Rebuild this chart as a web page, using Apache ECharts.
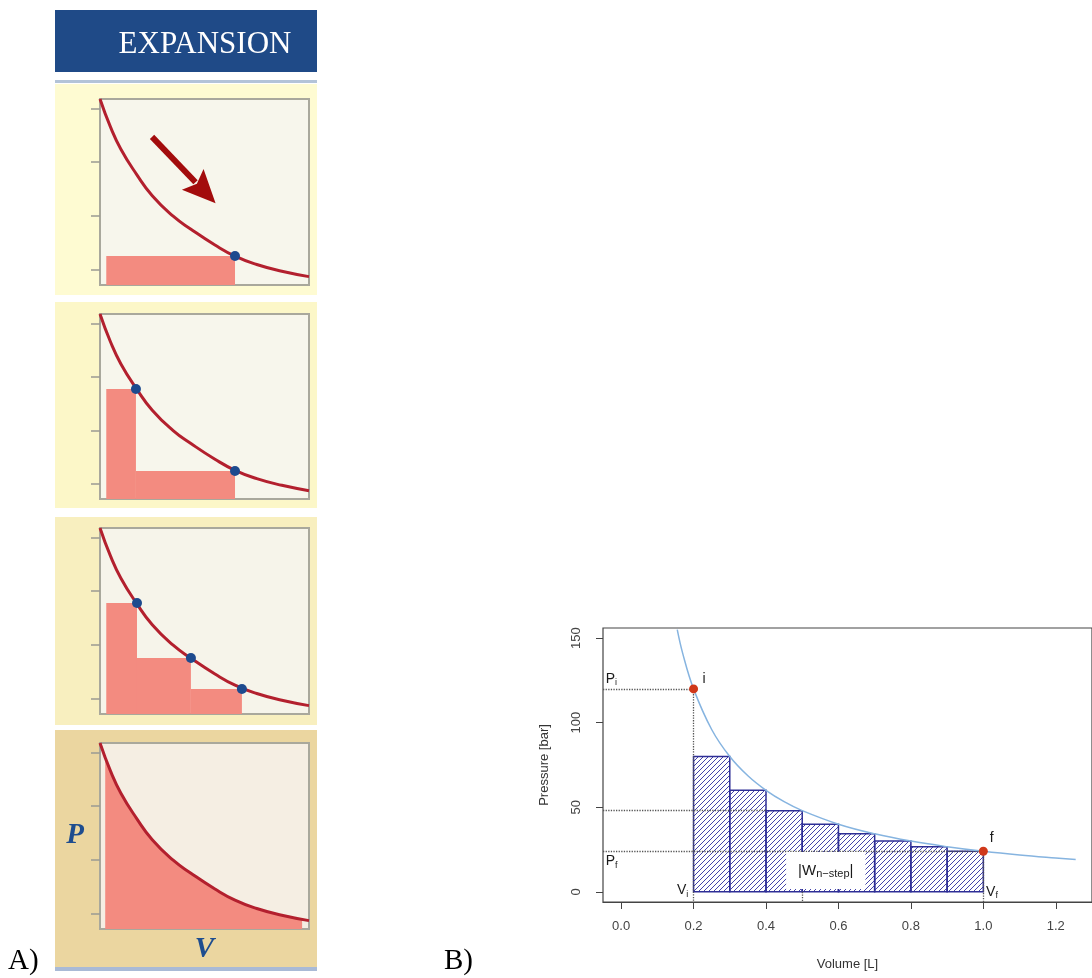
<!DOCTYPE html>
<html>
<head>
<meta charset="utf-8">
<title>Expansion work</title>
<script src="https://cdn.jsdelivr.net/npm/echarts@6/dist/echarts.min.js"></script>
<style>
  html, body { margin: 0; padding: 0; background: #fff; }
  #chart { width: 1092px; height: 978px; }
</style>
</head>
<body>
<div id="chart"></div>
<script>
// ---- panel A data (unitless P-V sketch, box = 0..1) ----
var panelCurveX = [0, 0.05, 0.1, 0.175, 0.25, 0.35, 0.435, 0.55, 0.646, 0.75, 0.87, 1.0];
var panelCurveY = [1.0, 0.85, 0.73, 0.595, 0.48, 0.37, 0.30, 0.215, 0.155, 0.11, 0.074, 0.045];
var fillX = [0.025, 0.05, 0.1, 0.175, 0.25, 0.35, 0.435, 0.55, 0.646, 0.75, 0.87, 0.967];
var fillY = [0.92, 0.85, 0.73, 0.595, 0.48, 0.37, 0.30, 0.215, 0.155, 0.11, 0.074, 0.052];
var panelTicks = [0.08, 0.37, 0.66, 0.95];

var panel1Left = [0.03], panel1Right = [0.646], panel1Top = [0.156];
var panel2Left = [0.03, 0.172], panel2Right = [0.172, 0.646], panel2Top = [0.595, 0.151];
var panel3Left = [0.03, 0.177, 0.435], panel3Right = [0.177, 0.435, 0.679], panel3Top = [0.597, 0.301, 0.134];
var arrowFrom = [0.249, 0.796], arrowTo = [0.553, 0.44];

// ---- panel B data ----
var curveV = [0.155, 0.17, 0.2, 0.25, 0.3, 0.35, 0.4, 0.45, 0.5, 0.6, 0.7, 0.8, 0.9, 1.0, 1.1, 1.2, 1.255];
var curveP = [155, 141, 120, 96, 80, 68.6, 60, 53.3, 48, 40, 34.3, 30, 26.7, 24, 21.8, 20, 19.1];
var stepLeft = [0.2, 0.3, 0.4, 0.5, 0.6, 0.7, 0.8, 0.9];
var stepRight = [0.3, 0.4, 0.5, 0.6, 0.7, 0.8, 0.9, 1.0];
var stepP = [80, 60, 48, 40, 34.3, 30, 26.7, 24];
var pointV = [0.2, 1.0], pointP = [120, 24];
var xTicks = [0, 0.2, 0.4, 0.6, 0.8, 1.0, 1.2];
var yTicks = [0, 50, 100, 150];

function zip(a, b) { return a.map(function (v, i) { return [v, b[i]]; }); }
function zip3(a, b, c) { return a.map(function (v, i) { return [v, b[i], c[i]]; }); }

// diagonal hatch for the step bars
var hatch = document.createElement('canvas');
hatch.width = 5; hatch.height = 5;
var hc = hatch.getContext('2d');
hc.strokeStyle = '#4444aa';
hc.lineWidth = 1;
hc.beginPath();
hc.moveTo(-1, 6); hc.lineTo(6, -1);
hc.moveTo(-1, 1); hc.lineTo(1, -1);
hc.moveTo(4, 6); hc.lineTo(6, 4);
hc.stroke();

var chart = echarts.init(document.getElementById('chart'));

var panelTops = [99, 314, 528, 743];
var panelHeights = [186, 185, 186, 186];
var panelBoxBg = ['#f7f6ec', '#f7f6ec', '#f6f4ea', '#f5eee3'];

var grids = [], xAxes = [], yAxes = [], series = [];
panelTops.forEach(function (t, i) {
  grids.push({ left: 100, top: t, width: 209, height: panelHeights[i], show: true,
    backgroundColor: panelBoxBg[i], borderColor: '#a9a89c', borderWidth: 2 });
  xAxes.push({ gridIndex: i, type: 'value', min: 0, max: 1,
    name: i === 3 ? 'V' : '', nameLocation: 'middle', nameGap: 6,
    nameTextStyle: { fontFamily: 'Liberation Serif', fontStyle: 'italic', fontWeight: 'bold', fontSize: 29, color: '#1e4d8f', verticalAlign: 'top' },
    axisLine: { show: false }, axisTick: { show: false }, axisLabel: { show: false }, splitLine: { show: false } });
  yAxes.push({ gridIndex: i, type: 'value', min: 0, max: 1,
    name: i === 3 ? 'P' : '', nameLocation: 'middle', nameGap: 16, nameRotate: 0,
    nameTextStyle: { fontFamily: 'Liberation Serif', fontStyle: 'italic', fontWeight: 'bold', fontSize: 29, color: '#1e4d8f', align: 'right' },
    axisLine: { show: false, onZero: false },
    axisTick: { show: true, length: 9, customValues: panelTicks, lineStyle: { color: '#9a9a92', width: 1.5 } },
    axisLabel: { show: false }, splitLine: { show: false } });
});

// panel B grid: x -0.05..1.30, y -6..156 (R style 4% padding)
grids.push({ left: 603, top: 628, width: 500, height: 274, show: true,
  backgroundColor: '#fff', borderColor: '#444', borderWidth: 1.2 });
xAxes.push({ gridIndex: 4, type: 'value', min: -0.05, max: 1.3,
  name: 'Volume [L]', nameLocation: 'middle', nameGap: 56,
  nameTextStyle: { fontFamily: 'Liberation Sans', fontSize: 13, color: '#333' },
  axisLine: { show: true, onZero: false, lineStyle: { color: '#444' } },
  axisTick: { show: true, length: 7, customValues: xTicks, lineStyle: { color: '#444' } },
  axisLabel: { customValues: xTicks, margin: 18, fontFamily: 'Liberation Sans', fontSize: 13, color: '#444',
    formatter: function (v) { return v.toFixed(1); } },
  splitLine: { show: false } });
yAxes.push({ gridIndex: 4, type: 'value', min: -6, max: 156,
  name: 'Pressure [bar]', nameLocation: 'middle', nameGap: 52,
  nameTextStyle: { fontFamily: 'Liberation Sans', fontSize: 13, color: '#333' },
  axisLine: { show: false, onZero: false },
  axisTick: { show: true, length: 7, customValues: yTicks, lineStyle: { color: '#444' } },
  axisLabel: { customValues: yTicks, rotate: 90, margin: 20, fontFamily: 'Liberation Sans', fontSize: 13, color: '#444' },
  splitLine: { show: false } });

function rectItem(fill, stroke) {
  return function (params, api) {
    var p0 = api.coord([api.value(0), 0]);
    var p1 = api.coord([api.value(1), api.value(2)]);
    return { type: 'rect',
      shape: { x: p0[0], y: p1[1], width: p1[0] - p0[0], height: p0[1] - p1[1] },
      style: { fill: fill, stroke: stroke || null, lineWidth: stroke ? 1.5 : 0 } };
  };
}

// panel A: steps, curve, dots
var panelSteps = [
  zip3(panel1Left, panel1Right, panel1Top),
  zip3(panel2Left, panel2Right, panel2Top),
  zip3(panel3Left, panel3Right, panel3Top)
];
panelSteps.forEach(function (d, i) {
  series.push({ type: 'custom', xAxisIndex: i, yAxisIndex: i, renderItem: rectItem('#f38b80'),
    encode: { x: [0, 1], y: 2 }, data: d, silent: true });
  series.push({ type: 'scatter', xAxisIndex: i, yAxisIndex: i, symbolSize: 10, z: 5,
    itemStyle: { color: '#1d4a8e', opacity: 1 }, data: d.map(function (r) { return [r[1], r[2]]; }) });
});
series.push({ type: 'line', xAxisIndex: 3, yAxisIndex: 3, data: zip(fillX, fillY), smooth: true,
  symbol: 'none', lineStyle: { width: 0 }, areaStyle: { color: '#f38b80', opacity: 1 } });
for (var k = 0; k < 4; k++) {
  series.push({ type: 'line', xAxisIndex: k, yAxisIndex: k, data: zip(panelCurveX, panelCurveY), smooth: true,
    symbol: 'none', z: 4, lineStyle: { color: '#b3202e', width: 3 } });
}
// expansion arrow in panel 1
series.push({ type: 'custom', xAxisIndex: 0, yAxisIndex: 0, data: [[arrowFrom[0], arrowFrom[1], arrowTo[0], arrowTo[1]]],
  encode: { x: [0, 2], y: [1, 3] },
  renderItem: function (params, api) {
    var a = api.coord([api.value(0), api.value(1)]);
    var b = api.coord([api.value(2), api.value(3)]);
    var dx = b[0] - a[0], dy = b[1] - a[1], len = Math.sqrt(dx * dx + dy * dy);
    var ux = dx / len, uy = dy / len, hl = 33, hw = 15;
    var bx = b[0] - ux * hl, by = b[1] - uy * hl;
    return { type: 'group', children: [
      { type: 'line', shape: { x1: a[0], y1: a[1], x2: bx + ux * 4, y2: by + uy * 4 },
        style: { stroke: '#a30c0c', lineWidth: 6 } },
      { type: 'polygon', shape: { points: [[b[0], b[1]], [bx - uy * hw, by + ux * hw], [bx + ux * 6, by + uy * 6], [bx + uy * hw, by - ux * hw]] },
        style: { fill: '#a30c0c' } }
    ] };
  } });

// panel B: hatched steps
series.push({ type: 'custom', xAxisIndex: 4, yAxisIndex: 4, z: 2,
  renderItem: rectItem({ image: hatch, repeat: 'repeat' }, '#2e2e96'),
  encode: { x: [0, 1], y: 2 }, data: zip3(stepLeft, stepRight, stepP) });
// dotted guides
series.push({ type: 'lines', coordinateSystem: 'cartesian2d', xAxisIndex: 4, yAxisIndex: 4, z: 3, silent: true,
  lineStyle: { type: 'dotted', color: '#555', width: 1.3, opacity: 1 },
  data: [
    { coords: [[-0.05, pointP[0]], [pointV[0], pointP[0]]] },
    { coords: [[pointV[0], pointP[0]], [pointV[0], -6]] },
    { coords: [[-0.05, stepP[2]], [stepRight[1], stepP[2]]] },
    { coords: [[-0.05, pointP[1]], [pointV[1], pointP[1]]] },
    { coords: [[0.5, 0], [0.5, -6]] },
    { coords: [[pointV[1], pointP[1]], [pointV[1], -6]] }
  ] });
series.push({ type: 'line', xAxisIndex: 4, yAxisIndex: 4, z: 4, data: zip(curveV, curveP), smooth: 0.4,
  symbol: 'none', lineStyle: { color: '#86b4e0', width: 1.5 } });

var rich = {
  n: { fontFamily: 'Liberation Sans', fontSize: 14, color: '#1a1a1a' },
  s: { fontFamily: 'Liberation Sans', fontSize: 9, color: '#1a1a1a', padding: [8, 0, 0, 0] },
  w: { fontFamily: 'Liberation Sans', fontSize: 15, color: '#1a1a1a' },
  ws: { fontFamily: 'Liberation Sans', fontSize: 11, color: '#1a1a1a', padding: [6, 0, 0, 0] }
};
function note(x, y, f, extra) {
  return { value: [x, y], label: Object.assign({ show: true, formatter: f, position: 'inside', opacity: 1, rich: rich }, extra || {}) };
}
series.push({ type: 'scatter', xAxisIndex: 4, yAxisIndex: 4, z: 6, symbolSize: 9,
  itemStyle: { color: '#d0381a', opacity: 1 }, data: zip(pointV, pointP) });
series.push({ type: 'scatter', xAxisIndex: 4, yAxisIndex: 4, z: 7, symbolSize: 1, silent: true,
  itemStyle: { color: 'rgba(0,0,0,0)', opacity: 1 },
  data: [
    note(-0.027, 126, '{n|P}{s|i}'),
    note(0.229, 126, '{n|i}'),
    note(-0.026, 18, '{n|P}{s|f}'),
    note(1.023, 32, '{n|f}'),
    note(0.17, 1, '{n|V}{s|i}'),
    note(1.024, 0, '{n|V}{s|f}'),
    note(0.565, 12.6, '{w||W}{ws|n\u2212step}{w||}', { backgroundColor: '#fff', padding: [10, 12, 10, 12] })
  ] });

chart.setOption({
  animation: false,
  graphic: [
    { type: 'rect', z: -10, shape: { x: 55, y: 10, width: 262, height: 62 }, style: { fill: '#1f4a87' } },
    { type: 'rect', z: -10, shape: { x: 55, y: 80, width: 262, height: 3 }, style: { fill: '#b3c3d8' } },
    { type: 'rect', z: -10, shape: { x: 55, y: 84, width: 262, height: 211 }, style: { fill: '#fefbd2' } },
    { type: 'rect', z: -10, shape: { x: 55, y: 302, width: 262, height: 206 }, style: { fill: '#fcf7c8' } },
    { type: 'rect', z: -10, shape: { x: 55, y: 517, width: 262, height: 208 }, style: { fill: '#f8efbf' } },
    { type: 'rect', z: -10, shape: { x: 55, y: 730, width: 262, height: 237 }, style: { fill: '#ebd6a0' } },
    { type: 'rect', z: -10, shape: { x: 55, y: 967, width: 262, height: 4 }, style: { fill: '#a9bad6' } },
    { type: 'text', z: 10, x: 205, y: 45, style: { text: 'EXPANSION', fill: '#fff', font: '31px "Liberation Serif"', textAlign: 'center', textVerticalAlign: 'middle' } },
    { type: 'text', z: 10, x: 8, y: 976, style: { text: 'A)', fill: '#000', font: '29px "Liberation Serif"', textAlign: 'left', textVerticalAlign: 'bottom' } },
    { type: 'text', z: 10, x: 444, y: 976, style: { text: 'B)', fill: '#000', font: '29px "Liberation Serif"', textAlign: 'left', textVerticalAlign: 'bottom' } }
  ],
  grid: grids,
  xAxis: xAxes,
  yAxis: yAxes,
  series: series
});
</script>
</body>
</html>
